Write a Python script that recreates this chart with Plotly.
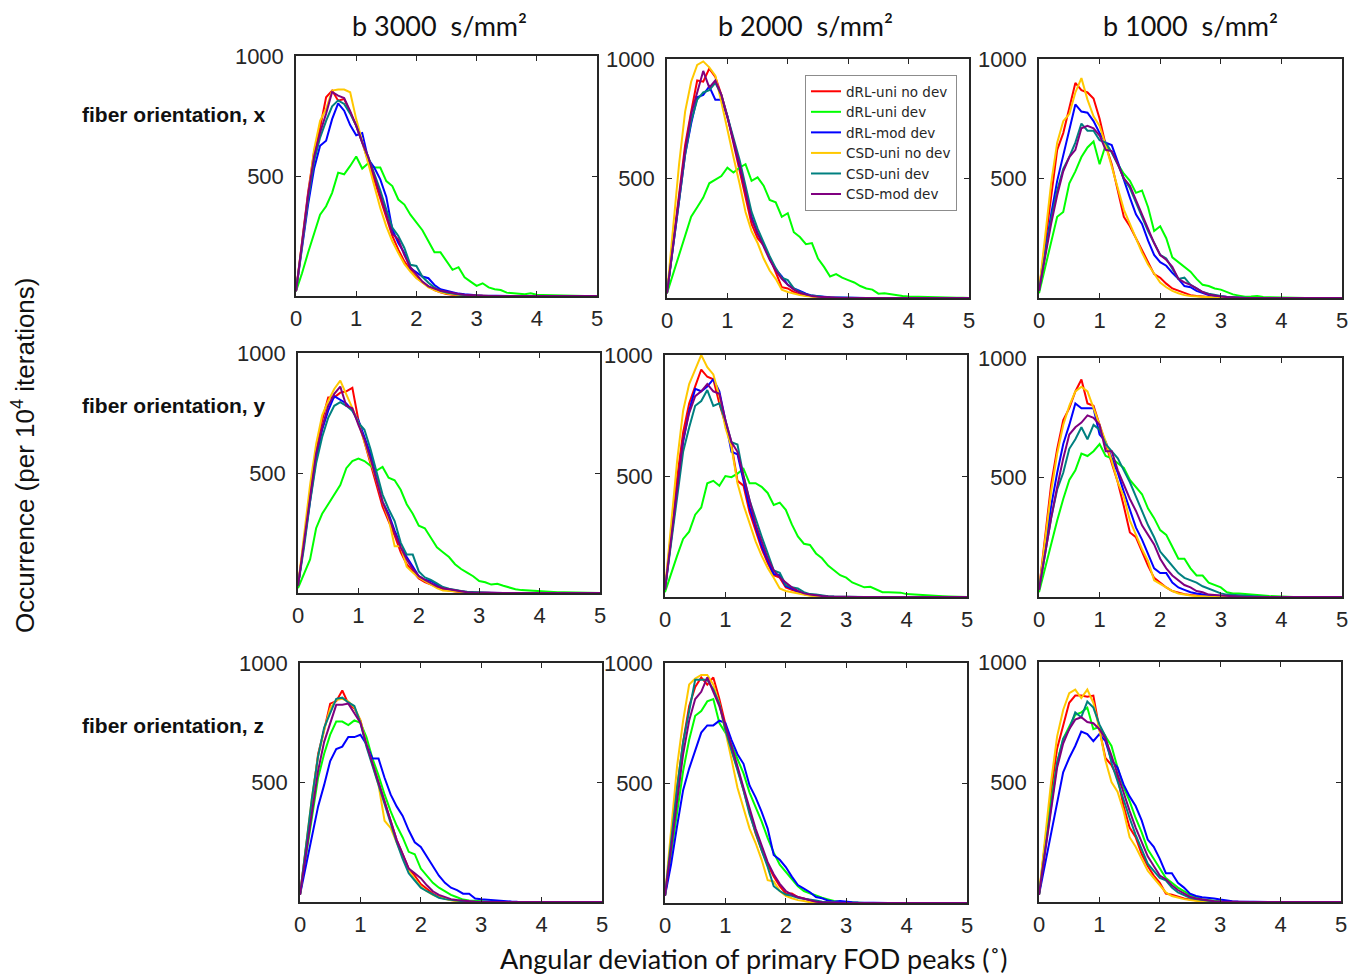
import plotly.graph_objects as go

# ---------------- data ----------------
angle = [0.0, 0.1, 0.2, 0.3, 0.4, 0.5, 0.6, 0.7, 0.8, 0.9,
         1.0, 1.1, 1.2, 1.3, 1.4, 1.5, 1.6, 1.7, 1.8, 1.9,
         2.0, 2.1, 2.2, 2.3, 2.4, 2.5, 2.6, 2.7, 2.8, 2.9,
         3.0, 3.1, 3.2, 3.3, 3.4, 3.5, 3.6, 3.7, 3.8, 3.9,
         4.0, 4.1, 4.2, 4.3, 4.4, 4.5, 4.6, 4.7, 4.8, 4.9, 5.0]

series_names = ["dRL-uni no dev", "dRL-uni dev", "dRL-mod dev",
                "CSD-uni no dev", "CSD-uni dev", "CSD-mod dev"]
col_titles = ["b 3000  s/mm²", "b 2000  s/mm²", "b 1000  s/mm²"]
row_titles = ["fiber orientation, x", "fiber orientation, y", "fiber orientation, z"]
x_ticks = [0, 1, 2, 3, 4, 5]
y_ticks = [500, 1000]

# ---- fiber orientation x, b 3000 ----
x_b3000_drl_uni_nodev = [20,230,430,600,700,828,856,814,821,765, 709,640,560,490,405,320,250,193,144,109, 78,56,39,25,15,8,5,3,2,1, 0,0,0,0,0,0,0,0,0,0, 0,0,0,0,0,0,0,0,0,0, 0]
x_b3000_drl_uni_dev = [20,95,180,262,339,374,430,514,507,542, 581,531,553,535,535,479,458,402,381,339, 304,274,228,182,182,144,109,120,78,60, 42,53,36,28,25,14,12,9,7,11, 5,4,3,2,2,1,1,0,0,0, 0]
x_b3000_drl_mod_dev = [20,200,380,530,626,647,737,803,772,712, 670,679,570,535,486,413,277,221,179,116, 98,81,74,46,28,22,15,10,7,4, 3,2,1,1,0,0,0,0,0,0, 0,0,0,0,0,0,0,0,0,0, 0]
x_b3000_csd_uni_nodev = [20,220,430,610,730,779,856,860,860,849, 737,647,556,458,367,290,228,179,134,102, 74,56,36,25,15,10,6,4,2,1, 0,0,0,0,0,0,0,0,0,0, 0,0,0,0,0,0,0,0,0,0, 0]
x_b3000_csd_uni_dev = [20,210,400,560,660,730,790,815,800,760, 710,640,580,510,440,360,285,250,200,130, 125,80,55,35,22,15,10,6,4,2, 1,0,0,0,0,0,0,0,0,0, 0,0,0,0,0,0,0,0,0,0, 0]
x_b3000_csd_mod_dev = [20,220,420,580,680,760,850,835,825,770, 710,640,580,500,420,340,260,235,170,120, 90,60,40,30,22,18,12,8,5,3, 2,1,0,0,0,0,0,0,0,0, 0,0,0,0,0,0,0,0,0,0, 0]

# ---- fiber orientation x, b 2000 ----
x_b2000_drl_uni_nodev = [20,230,450,640,780,910,905,960,925,850, 760,650,530,420,310,250,220,170,110,45, 40,25,15,10,6,3,2,0,0,0, 0,0,0,0,0,0,0,0,0,0, 0,0,0,0,0,0,0,0,0,0, 0]
x_b2000_drl_uni_dev = [20,100,180,260,340,380,420,480,495,510, 545,525,545,560,490,505,470,410,400,340, 355,275,255,225,230,165,130,90,100,85, 75,65,50,40,35,18,20,15,12,8, 6,5,4,3,3,2,2,1,1,1, 0]
x_b2000_drl_mod_dev = [20,210,420,600,730,840,850,885,830,830, 760,660,560,450,340,270,225,165,120,90, 55,40,30,18,10,6,5,3,2,1, 0,0,0,0,0,0,0,0,0,0, 0,0,0,0,0,0,0,0,0,0, 0]
x_b2000_csd_uni_nodev = [20,280,560,780,905,975,990,965,930,820, 700,590,480,360,280,230,165,115,80,35, 25,18,12,8,5,2,1,0,0,0, 0,0,0,0,0,0,0,0,0,0, 0,0,0,0,0,0,0,0,0,0, 0]
x_b2000_csd_uni_dev = [20,210,420,600,740,830,860,870,900,850, 760,670,580,470,360,290,230,175,125,85, 75,40,25,15,10,6,4,2,1,0, 0,0,0,0,0,0,0,0,0,0, 0,0,0,0,0,0,0,0,0,0, 0]
x_b2000_csd_mod_dev = [20,220,440,620,770,860,950,880,910,850, 760,660,560,440,330,270,215,160,115,80, 55,35,22,14,8,5,3,2,1,0, 0,0,0,0,0,0,0,0,0,0, 0,0,0,0,0,0,0,0,0,0, 0]

# ---- fiber orientation x, b 1000 ----
x_b1000_drl_uni_nodev = [30,230,440,620,690,790,900,870,860,835, 750,640,560,450,340,300,250,195,150,100, 85,60,40,30,20,12,8,5,3,2, 1,0,0,0,0,0,0,0,0,0, 0,0,0,0,0,0,0,0,0,0, 0]
x_b1000_drl_uni_dev = [20,130,230,340,360,480,530,590,630,655, 560,640,610,560,520,490,440,450,380,280, 300,250,170,150,130,110,80,55,50,40, 35,25,15,10,5,6,8,4,3,2, 2,1,1,0,0,0,0,0,0,0, 0]
x_b1000_drl_mod_dev = [30,200,350,490,600,700,810,780,775,740, 690,650,640,570,490,420,350,310,240,180, 150,135,105,80,50,45,30,20,12,8, 5,3,2,1,0,0,0,0,0,0, 0,0,0,0,0,0,0,0,0,0, 0]
x_b1000_csd_uni_nodev = [30,260,480,650,740,770,860,920,830,760, 720,640,550,450,370,310,250,190,140,100, 65,45,30,20,12,8,6,4,2,1, 0,0,0,0,0,0,0,0,0,0, 0,0,0,0,0,0,0,0,0,0, 0]
x_b1000_csd_uni_dev = [30,180,330,450,540,590,650,730,700,700, 660,650,610,560,500,460,400,340,280,230, 180,165,120,80,85,55,40,25,18,12, 8,5,3,2,1,0,0,0,0,0, 0,0,0,0,0,0,0,0,0,0, 0]
x_b1000_csd_mod_dev = [30,170,310,430,530,590,620,710,720,710, 680,620,615,560,500,470,410,350,290,230, 180,160,130,80,65,55,40,25,15,10, 6,4,2,1,0,0,0,0,0,0, 0,0,0,0,0,0,0,0,0,0, 0]

# ---- fiber orientation y, b 3000 ----
y_b3000_drl_uni_nodev = [30,220,420,600,720,815,815,835,840,855, 720,630,550,450,360,300,240,170,120,90, 60,45,35,22,15,10,6,3,2,1, 0,0,0,0,0,0,0,0,0,0, 0,0,0,0,0,0,0,0,0,0, 0]
y_b3000_drl_uni_dev = [20,80,140,270,330,370,410,450,520,550, 560,550,530,510,525,480,470,430,370,330, 280,270,230,190,170,150,120,100,85,70, 50,45,35,38,30,22,16,12,10,8, 6,6,4,3,3,2,2,1,1,1, 0]
y_b3000_drl_mod_dev = [30,200,390,560,680,760,820,805,790,760, 720,650,580,480,380,330,260,200,150,110, 70,55,50,35,22,15,10,6,3,2, 1,0,0,0,0,0,0,0,0,0, 0,0,0,0,0,0,0,0,0,0, 0]
y_b3000_csd_uni_nodev = [30,250,450,620,740,800,850,885,830,770, 710,630,560,470,380,310,195,195,110,85, 65,50,35,20,10,8,5,3,2,1, 0,0,0,0,0,0,0,0,0,0, 0,0,0,0,0,0,0,0,0,0, 0]
y_b3000_csd_uni_dev = [30,190,380,540,650,730,780,795,780,760, 710,680,600,500,410,350,300,210,160,160, 90,65,55,40,25,18,12,8,5,3, 2,1,0,0,0,0,0,0,0,0, 0,0,0,0,0,0,0,0,0,0, 0]
y_b3000_csd_mod_dev = [30,220,410,580,690,780,830,860,780,770, 700,640,560,470,380,320,250,190,140,100, 70,55,40,28,20,15,10,6,3,2, 1,0,0,0,0,0,0,0,0,0, 0,0,0,0,0,0,0,0,0,0, 0]

# ---- fiber orientation y, b 2000 ----
y_b2000_drl_uni_nodev = [30,250,490,680,800,870,940,910,900,800, 710,630,480,460,350,270,200,140,90,80, 40,30,20,12,8,5,3,1,0,0, 0,0,0,0,0,0,0,0,0,0, 0,0,0,0,0,0,0,0,0,0, 0]
y_b2000_drl_uni_dev = [20,100,170,240,270,340,370,470,480,460, 500,495,510,530,470,470,455,430,380,390, 360,300,250,220,215,180,160,130,110,90, 80,60,50,40,42,30,20,20,20,18, 12,10,8,8,5,4,3,2,2,1, 0]
y_b2000_drl_mod_dev = [30,230,440,640,770,860,850,870,900,850, 730,600,590,480,370,290,210,150,95,90, 45,35,25,12,8,5,3,2,1,0, 0,0,0,0,0,0,0,0,0,0, 0,0,0,0,0,0,0,0,0,0, 0]
y_b2000_csd_uni_nodev = [30,280,560,770,880,940,1000,950,920,830, 700,620,470,380,300,230,170,120,80,35, 25,20,12,8,5,4,2,1,0,0, 0,0,0,0,0,0,0,0,0,0, 0,0,0,0,0,0,0,0,0,0, 0]
y_b2000_csd_uni_dev = [30,220,420,600,700,790,810,855,790,800, 730,640,630,500,400,320,250,180,110,100, 50,40,35,20,12,10,5,3,2,1, 0,0,0,0,0,0,0,0,0,0, 0,0,0,0,0,0,0,0,0,0, 0]
y_b2000_csd_mod_dev = [30,240,460,650,760,830,850,880,850,840, 730,640,600,500,390,300,230,160,110,80, 60,40,25,15,10,6,4,2,1,0, 0,0,0,0,0,0,0,0,0,0, 0,0,0,0,0,0,0,0,0,0, 0]

# ---- fiber orientation y, b 1000 ----
y_b1000_drl_uni_nodev = [30,250,470,620,740,790,860,910,810,800, 720,630,560,480,380,270,250,190,130,80, 60,40,25,18,12,8,5,3,2,1, 0,0,0,0,0,0,0,0,0,0, 0,0,0,0,0,0,0,0,0,0, 0]
y_b1000_drl_uni_dev = [20,120,230,320,410,490,530,600,590,610, 640,590,580,560,540,490,460,430,370,330, 280,260,210,160,160,120,90,90,60,50, 40,20,15,15,12,10,8,6,4,2, 2,1,0,0,0,0,0,0,0,0, 0]
y_b1000_drl_mod_dev = [30,200,380,520,640,720,810,790,790,790, 680,650,580,520,440,360,290,240,180,120, 100,100,60,40,30,20,15,10,7,4, 3,2,1,0,0,0,0,0,0,0, 0,0,0,0,0,0,0,0,0,0, 0]
y_b1000_csd_uni_nodev = [30,230,440,600,720,800,860,880,860,790, 720,650,570,480,420,320,260,200,150,70, 55,40,25,15,10,6,4,2,1,0, 0,0,0,0,0,0,0,0,0,0, 0,0,0,0,0,0,0,0,0,0, 0]
y_b1000_csd_uni_dev = [30,180,330,450,520,620,660,710,660,720, 700,640,610,580,530,480,420,360,300,250, 190,160,130,100,80,70,60,45,35,25, 15,10,8,6,4,3,2,1,0,0, 0,0,0,0,0,0,0,0,0,0, 0]
y_b1000_csd_mod_dev = [30,180,330,460,580,680,710,730,760,750, 720,610,610,530,470,410,360,300,260,220, 160,120,90,70,50,40,25,20,10,8, 6,4,2,1,0,0,0,0,0,0, 0,0,0,0,0,0,0,0,0,0, 0]

# ---- fiber orientation z, b 3000 ----
z_b3000_drl_uni_nodev = [30,230,440,620,720,830,840,885,830,810, 760,660,580,500,410,330,260,200,140,110, 75,55,35,22,15,8,5,2,1,0, 0,0,0,0,0,0,0,0,0,0, 0,0,0,0,0,0,0,0,0,0, 0]
z_b3000_drl_uni_dev = [30,190,360,520,620,700,755,755,740,760, 750,690,600,530,450,380,320,270,210,200, 140,110,80,60,45,30,20,10,6,4, 2,1,0,0,0,0,0,0,0,0, 0,0,0,0,0,0,0,0,0,0, 0]
z_b3000_drl_mod_dev = [30,150,280,400,490,590,640,650,690,690, 700,660,600,600,520,450,400,360,300,250, 230,190,150,110,80,60,50,35,35,15, 12,10,5,3,2,2,1,1,3,1, 0,0,0,0,0,0,0,0,0,0, 0]
z_b3000_csd_uni_nodev = [30,230,440,610,720,810,845,850,840,815, 760,660,570,490,340,310,250,190,130,95, 65,45,30,20,12,7,4,2,1,0, 0,0,0,0,0,0,0,0,0,0, 0,0,0,0,0,0,0,0,0,0, 0]
z_b3000_csd_uni_dev = [30,230,440,610,730,790,850,855,835,820, 750,650,570,480,400,320,250,180,120,90, 60,45,30,18,12,8,5,3,2,1, 0,0,0,0,0,0,0,0,0,0, 0,0,0,0,0,0,0,0,0,0, 0]
z_b3000_csd_mod_dev = [30,200,390,550,670,750,825,825,830,790, 750,660,580,490,410,330,260,200,140,120, 100,70,45,30,20,12,8,5,3,1, 0,0,0,0,0,0,0,0,0,0, 0,0,0,0,0,0,0,0,0,0, 0]

# ---- fiber orientation z, b 2000 ----
z_b2000_drl_uni_nodev = [30,250,480,670,820,900,940,910,940,850, 750,640,560,470,380,290,220,160,110,70, 40,40,25,18,10,5,3,1,0,0, 0,0,0,0,0,0,0,0,0,0, 0,0,0,0,0,0,0,0,0,0, 0]
z_b2000_drl_uni_dev = [30,200,390,550,680,780,800,840,850,750, 710,660,600,540,460,400,340,270,210,160, 130,100,70,50,40,30,22,15,8,5, 3,2,1,0,0,0,0,0,0,0, 0,0,0,0,0,0,0,0,0,0, 0]
z_b2000_drl_mod_dev = [30,160,320,470,560,640,710,740,740,760, 750,680,620,580,490,440,380,310,200,180, 150,110,75,60,45,25,20,10,5,8, 4,3,2,1,0,0,0,0,0,0, 0,0,0,0,0,0,0,0,0,0, 0]
z_b2000_csd_uni_nodev = [30,300,570,760,910,935,950,950,910,830, 720,600,480,390,310,250,180,95,90,50, 30,20,12,8,3,2,1,0,0,0, 0,0,0,0,0,0,0,0,0,0, 0,0,0,0,0,0,0,0,0,0, 0]
z_b2000_csd_uni_dev = [30,250,480,670,800,930,930,930,890,830, 720,640,550,470,370,290,220,150,70,50, 35,30,22,18,15,10,5,2,1,0, 0,0,0,0,0,0,0,0,0,0, 0,0,0,0,0,0,0,0,0,0, 0]
z_b2000_csd_mod_dev = [30,230,440,620,760,850,880,940,880,820, 740,660,570,480,390,310,240,170,120,80, 50,35,25,18,10,5,3,1,0,0, 0,0,0,0,0,0,0,0,0,0, 0,0,0,0,0,0,0,0,0,0, 0]

# ---- fiber orientation z, b 1000 ----
z_b1000_drl_uni_nodev = [30,240,460,640,740,830,860,860,855,860, 720,600,570,520,400,310,270,200,150,110, 80,35,30,22,15,10,6,4,2,1, 0,0,0,0,0,0,0,0,0,0, 0,0,0,0,0,0,0,0,0,0, 0]
z_b1000_drl_uni_dev = [30,230,420,580,680,730,780,790,810,720, 730,690,650,560,480,420,350,290,220,180, 140,100,80,60,45,30,20,12,8,4, 2,1,0,0,0,0,0,0,0,0, 0,0,0,0,0,0,0,0,0,0, 0]
z_b1000_drl_mod_dev = [30,160,290,410,540,600,650,710,700,670, 700,670,590,560,490,440,400,340,260,230, 180,120,120,80,60,35,25,20,18,15, 10,5,3,2,1,0,0,0,0,0, 0,0,0,0,0,0,0,0,0,0, 0]
z_b1000_csd_uni_nodev = [30,270,500,690,800,870,885,850,885,830, 720,590,500,460,380,270,230,180,130,100, 70,40,25,18,12,8,4,2,1,0, 0,0,0,0,0,0,0,0,0,0, 0,0,0,0,0,0,0,0,0,0, 0]
z_b1000_csd_uni_dev = [30,220,410,580,680,720,790,770,835,810, 740,690,580,500,420,350,280,220,160,130, 100,90,60,40,28,18,12,8,4,2, 1,0,0,0,0,0,0,0,0,0, 0,0,0,0,0,0,0,0,0,0, 0]
z_b1000_csd_mod_dev = [30,210,400,560,660,720,760,770,750,745, 720,680,610,530,450,380,310,250,190,150, 110,95,70,50,35,22,15,10,6,3, 2,1,0,0,0,0,0,0,0,0, 0,0,0,0,0,0,0,0,0,0, 0]

panels = [
    [  # orientation x
        [x_b3000_drl_uni_nodev, x_b3000_drl_uni_dev, x_b3000_drl_mod_dev, x_b3000_csd_uni_nodev, x_b3000_csd_uni_dev, x_b3000_csd_mod_dev],
        [x_b2000_drl_uni_nodev, x_b2000_drl_uni_dev, x_b2000_drl_mod_dev, x_b2000_csd_uni_nodev, x_b2000_csd_uni_dev, x_b2000_csd_mod_dev],
        [x_b1000_drl_uni_nodev, x_b1000_drl_uni_dev, x_b1000_drl_mod_dev, x_b1000_csd_uni_nodev, x_b1000_csd_uni_dev, x_b1000_csd_mod_dev],
    ],
    [  # orientation y
        [y_b3000_drl_uni_nodev, y_b3000_drl_uni_dev, y_b3000_drl_mod_dev, y_b3000_csd_uni_nodev, y_b3000_csd_uni_dev, y_b3000_csd_mod_dev],
        [y_b2000_drl_uni_nodev, y_b2000_drl_uni_dev, y_b2000_drl_mod_dev, y_b2000_csd_uni_nodev, y_b2000_csd_uni_dev, y_b2000_csd_mod_dev],
        [y_b1000_drl_uni_nodev, y_b1000_drl_uni_dev, y_b1000_drl_mod_dev, y_b1000_csd_uni_nodev, y_b1000_csd_uni_dev, y_b1000_csd_mod_dev],
    ],
    [  # orientation z
        [z_b3000_drl_uni_nodev, z_b3000_drl_uni_dev, z_b3000_drl_mod_dev, z_b3000_csd_uni_nodev, z_b3000_csd_uni_dev, z_b3000_csd_mod_dev],
        [z_b2000_drl_uni_nodev, z_b2000_drl_uni_dev, z_b2000_drl_mod_dev, z_b2000_csd_uni_nodev, z_b2000_csd_uni_dev, z_b2000_csd_mod_dev],
        [z_b1000_drl_uni_nodev, z_b1000_drl_uni_dev, z_b1000_drl_mod_dev, z_b1000_csd_uni_nodev, z_b1000_csd_uni_dev, z_b1000_csd_mod_dev],
    ],
]

# ---------------- style / layout ----------------
# The page body has an 8px margin, so the figure is drawn 8px in from the
# top-left corner of the window; positions below are window pixels.
OFF = 8
W, H = 1359 - OFF, 974 - OFF


def px_x(p):
    return (p - OFF) / W


def px_y(p):
    return 1 - (p - OFF) / H


colors = ["#FF0000", "#00FF00", "#0000FF", "#FFC800", "#008080", "#800080"]
axis_color = "#262626"
text_color = "#111111"

# panel boxes in window pixels: (left, right, top, bottom)
boxes = [
    [(296, 597, 56, 296), (667, 969, 59, 298), (1039, 1342, 59, 298)],
    [(298, 600, 353, 593), (665, 967, 355, 597), (1039, 1342, 358, 597)],
    [(300, 602, 663, 902), (665, 967, 663, 903), (1039, 1341, 662, 902)],
]

fig = go.Figure()
layout = dict(
    width=W, height=H, autosize=False,
    margin=dict(l=0, r=0, t=0, b=0, pad=0),
    paper_bgcolor="white", plot_bgcolor="white",
    showlegend=True,
)

k = 0
for r in range(3):
    for c in range(3):
        k += 1
        xa = "xaxis" if k == 1 else f"xaxis{k}"
        ya = "yaxis" if k == 1 else f"yaxis{k}"
        xr = "x" if k == 1 else f"x{k}"
        yr = "y" if k == 1 else f"y{k}"
        l, rr, t, b = boxes[r][c]
        common = dict(
            ticks="inside", ticklen=5, tickwidth=1,
            tickcolor=axis_color, showline=True, linecolor=axis_color,
            linewidth=1.5, mirror="ticks", showgrid=False, zeroline=False,
            tickfont=dict(family="Liberation Sans", size=22, color=axis_color),
            fixedrange=True, automargin=False,
        )
        layout[xa] = dict(domain=[px_x(l), px_x(rr)], anchor=yr, range=[0, 5],
                          tickvals=x_ticks, ticklabelstandoff=2, **common)
        layout[ya] = dict(domain=[px_y(b), px_y(t)], anchor=xr, range=[0, 1000],
                          tickvals=y_ticks, ticklabelstandoff=6, **common)
        for s in range(6):
            fig.add_trace(go.Scatter(
                x=angle, y=panels[r][c][s], mode="lines",
                name=series_names[s],
                line=dict(color=colors[s], width=2),
                xaxis=xr, yaxis=yr,
                showlegend=(k == 1),
                hoverinfo="skip",
            ))

layout["legend"] = dict(
    x=px_x(805), y=px_y(75), xanchor="left", yanchor="top",
    bgcolor="white", bordercolor="#8c8c8c", borderwidth=1,
    font=dict(family="DejaVu Sans", size=13.5, color=axis_color),
    itemwidth=30, tracegroupgap=0,
)

annotations = []
col_centers = [440, 805, 1190]
for c in range(3):
    annotations.append(dict(
        text=col_titles[c], x=px_x(col_centers[c]), y=px_y(25),
        xref="paper", yref="paper", xanchor="center", yanchor="middle",
        showarrow=False, font=dict(family="Lato", size=27, color=text_color),
    ))
row_centers = [115, 406, 725]
for r in range(3):
    annotations.append(dict(
        text="<b>" + row_titles[r] + "</b>", x=px_x(80), y=px_y(row_centers[r]),
        xref="paper", yref="paper", xanchor="left", yanchor="middle",
        showarrow=False, font=dict(family="Liberation Sans", size=21, color=text_color),
    ))
annotations.append(dict(
    text="Occurrence (per 10<sup>4</sup> iterations)", x=px_x(24), y=px_y(455),
    xref="paper", yref="paper", xanchor="center", yanchor="middle", textangle=-90,
    showarrow=False, font=dict(family="Liberation Sans", size=26, color=text_color),
))
annotations.append(dict(
    text="Angular deviation of primary FOD peaks (˚)", x=px_x(754), y=px_y(958),
    xref="paper", yref="paper", xanchor="center", yanchor="middle",
    showarrow=False, font=dict(family="Lato", size=27, color=text_color),
))
layout["annotations"] = annotations

fig.update_layout(**layout)
fig.write_html("out.html")
